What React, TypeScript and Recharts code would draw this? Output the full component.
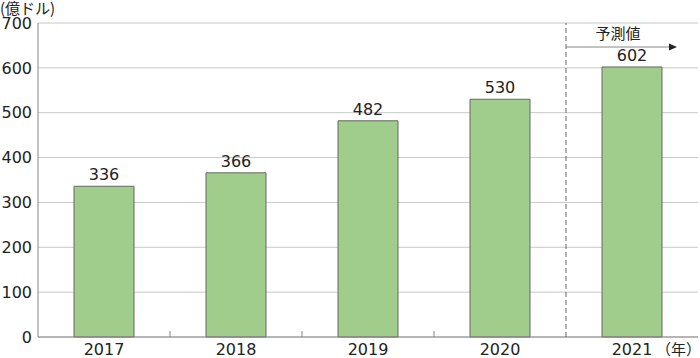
import React from 'react';
import { BarChart, Bar, XAxis, YAxis, CartesianGrid, LabelList } from 'recharts';

const years = ['2017', '2018', '2019', '2020', '2021'];
const values = [336, 366, 482, 530, 602];
const yTicks = [0, 100, 200, 300, 400, 500, 600, 700];
const unitLabel = '(億ドル)';
const yearUnit = '（年）';
const forecastLabel = '予測値';

const data = years.map((year, i) => ({ year, value: values[i] }));

const W = 700;
const H = 358;
const TOP = 23;
const XAXIS_H = 21;
const PLOT_H = H - TOP - XAXIS_H;
const FONT = '"DejaVu Sans", "Noto Sans CJK JP", sans-serif';
const CJK = '"Noto Sans CJK JP", sans-serif';

function YearTick(props: any) {
  const { x, y, payload, index } = props;
  const half = payload.offset || 0;
  const bx = x + half;
  const isLast = index === years.length - 1;
  const isBoundaryBeforeForecast = index === years.length - 2;
  return (
    <g>
      <text x={x} y={y + 18} textAnchor="middle" fontSize={16} fill="#222" fontFamily={FONT}>
        {payload.value}
      </text>
      {isLast && (
        <text x={x + 24} y={y + 18} textAnchor="start" fontSize={15} fill="#222" fontFamily={CJK}>
          {yearUnit}
        </text>
      )}
      {!isLast && !isBoundaryBeforeForecast && (
        <line x1={bx} x2={bx} y1={y} y2={y - 6} stroke="#888" strokeWidth={1} />
      )}
      {isBoundaryBeforeForecast && (
        <g>
          <line x1={bx} x2={bx} y1={y} y2={y - PLOT_H} stroke="#666" strokeWidth={1} strokeDasharray="5 3" />
          <line x1={bx} x2={bx + 104} y1={y - 290} y2={y - 290} stroke="#888" strokeWidth={1} />
          <polygon
            points={`${bx + 111},${y - 290} ${bx + 103},${y - 293.5} ${bx + 103},${y - 286.5}`}
            fill="#222"
          />
          <text x={bx + 52} y={y - 298} textAnchor="middle" fontSize={15} fill="#222" fontFamily={CJK}>
            {forecastLabel}
          </text>
        </g>
      )}
    </g>
  );
}

export default function App() {
  return (
    <div style={{ position: 'absolute', left: 0, top: 0, width: W, height: H, background: '#fff' }}>
      <div
        style={{
          position: 'absolute',
          left: 0,
          top: -1,
          fontSize: 15,
          fontFamily: CJK,
          color: '#222',
          lineHeight: '17px',
        }}
      >
        {unitLabel}
      </div>
      <BarChart
        width={W}
        height={H}
        data={data}
        margin={{ top: TOP, right: 2, left: 0, bottom: 0 }}
      >
        <CartesianGrid vertical={false} stroke="#c8c8c8" strokeWidth={1} />
        <XAxis
          dataKey="year"
          height={XAXIS_H}
          tickLine={false}
          tickSize={0}
          tickMargin={0}
          axisLine={{ stroke: '#888' }}
          tick={<YearTick />}
          interval={0}
        />
        <YAxis
          width={38}
          domain={[0, 700]}
          ticks={yTicks}
          tickLine={false}
          axisLine={{ stroke: '#888' }}
          tickSize={0}
          tickMargin={6}
          tick={{ fontSize: 16, fill: '#222', fontFamily: FONT }}
        />
        <Bar dataKey="value" fill="#a0cc8c" stroke="#666" strokeWidth={1} barSize={60} isAnimationActive={false}>
          <LabelList dataKey="value" position="top" offset={6} fontSize={16} fill="#222" fontFamily={FONT} />
        </Bar>
      </BarChart>
    </div>
  );
}
